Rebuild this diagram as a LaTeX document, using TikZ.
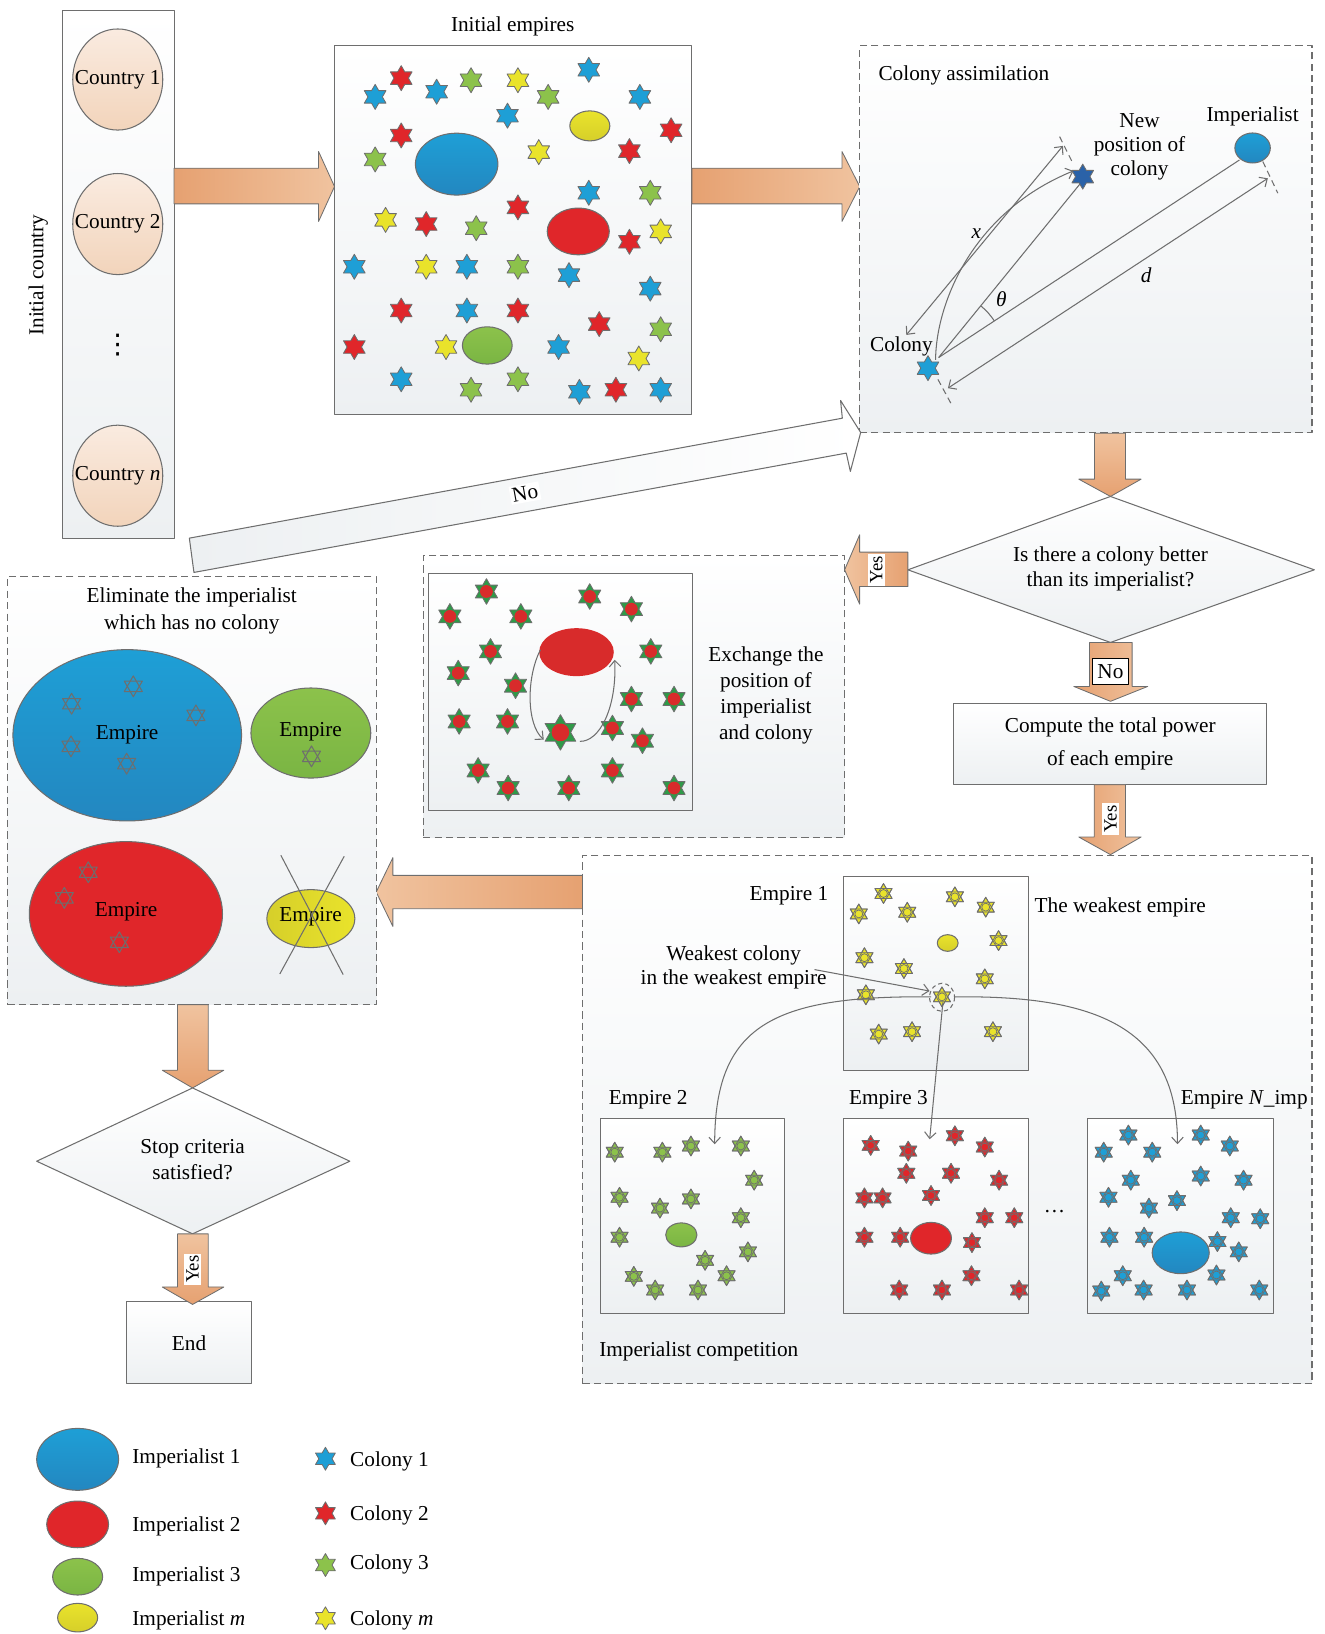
\documentclass[tikz,border=0pt]{standalone}
\usepackage{fontspec}
\setmainfont{Liberation Serif}
\newfontfamily\djv{DejaVu Sans}
\usetikzlibrary{arrows.meta}
\definecolor{sblue}{HTML}{1E9FD6}
\definecolor{sblueD}{HTML}{2387C0}
\definecolor{sred}{HTML}{E0262A}
\definecolor{sgreen}{HTML}{8CC24B}
\definecolor{sgreenD}{HTML}{7AB543}
\definecolor{syellow}{HTML}{E9E32B}
\definecolor{syellowD}{HTML}{D6CF2A}
\definecolor{sdblue}{HTML}{2A62A8}
\definecolor{exgreen}{HTML}{2F9A48}
\definecolor{exred}{HTML}{D82B2B}
\definecolor{lgray}{HTML}{6E6E6E}
\definecolor{boxbot}{HTML}{EDF0F2}
\definecolor{peachT}{HTML}{FAEBE0}
\definecolor{peachB}{HTML}{F2D4BB}
\definecolor{arrD}{HTML}{E6A171}
\definecolor{arrL}{HTML}{F0C39F}
\newcommand\hstar[4]{\filldraw[fill=#1,draw=lgray,line width=0.4pt] (#2,#3) +(90:#4) -- +(120:{0.5774*#4}) -- +(150:#4) -- +(180:{0.5774*#4}) -- +(210:#4) -- +(240:{0.5774*#4}) -- +(270:#4) -- +(300:{0.5774*#4}) -- +(330:#4) -- +(0:{0.5774*#4}) -- +(30:#4) -- +(60:{0.5774*#4}) -- cycle;}
\newcommand\tristar[4]{\draw[lgray,line width=#4] (#1,#2) +(90:#3) -- +(210:#3) -- +(330:#3) -- cycle;
 \draw[lgray,line width=#4] (#1,#2) +(270:#3) -- +(30:#3) -- +(150:#3) -- cycle;}
\newcommand\cstar[4]{\hstar{#1}{#2}{#3}{#4}\tristar{#2}{#3}{#4}{0.35pt}\filldraw[fill=#1,draw=lgray,line width=0.35pt] (#2,#3) circle[radius={0.4*#4}];}
\newcommand\exstar[3]{\hstar{exgreen}{#1}{#2}{#3}\fill[exred] (#1,#2) circle[radius={0.5*#3}];}
\tikzset{
 every node/.style={font=\fontsize{10.2}{12}\selectfont, text=black},
 cline/.style={draw=lgray, line width=0.5pt},
 pane/.style={cline, top color=white, bottom color=boxbot, inner sep=0pt, outer sep=0pt},
 dpane/.style={pane, dash pattern=on 3.5pt off 2pt},
 blockR/.style={cline, line width=0.4pt, left color=arrD, right color=arrL},
 blockL/.style={cline, line width=0.4pt, left color=arrL, right color=arrD},
 blockD/.style={cline, line width=0.4pt, top color=arrL, bottom color=arrD},
 conn/.style={draw=lgray, line width=0.5pt},
 tipp/.style={-{Straight Barb[length=3pt,width=5.5pt]}},
 dtip/.style={{Straight Barb[length=3pt,width=5.5pt]}-{Straight Barb[length=3pt,width=5.5pt]}},
 tick/.style={conn, dash pattern=on 3pt off 2pt},
 ylab/.style={fill=white, inner sep=1pt, rotate=90, font=\fontsize{9}{10}\selectfont},
}
\begin{document}
\begin{tikzpicture}[x=0.5pt,y=-0.5pt,line join=round]
\useasboundingbox (0,0) rectangle (1271,1568);

% ---------- initial country column
\node[pane, minimum width=53.5pt, minimum height=253.5pt] (colbox) at (113.5,263.5) {};
\draw[cline, top color=peachT, bottom color=peachB] (113,76.3) ellipse[x radius=43.2, y radius=48.5];
\draw[cline, top color=peachT, bottom color=peachB] (113,215) ellipse[x radius=43.2, y radius=48.5];
\draw[cline, top color=peachT, bottom color=peachB] (113,456.5) ellipse[x radius=43.2, y radius=48.5];
\node (c1) at (113,76.3) {Country 1};
\node (c2) at (113,215) {Country 2};
\node (cn) at (113,456.5) {Country \textit{n}};
\node (dots) at (113,331) {{\djv\fontsize{13}{14}\selectfont ⋮}};
\node[rotate=90] (ic) at (36.8,264) {Initial country};

% ---------- arrow A
\draw[blockR] (167,161.4) -- (305.7,161.4) -- (305.7,145.4) -- (321,179) -- (305.7,212.5) -- (305.7,195.6) -- (167,195.6) -- cycle;

% ---------- initial empires
\node[pane, minimum width=171.5pt, minimum height=177pt] (initbox) at (492.5,221) {};
\node (ietitle) at (492,25) {Initial empires};
\draw[cline, top color=sblue, bottom color=sblueD] (438.2,157.5) ellipse[x radius=39.6, y radius=29.7];
\draw[cline, top color=syellow, bottom color=syellowD] (566,120.8) ellipse[x radius=19.2, y radius=14.4];
\draw[cline, fill=sred] (554.9,222.1) ellipse[x radius=29.8, y radius=22.4];
\draw[cline, top color=sgreen, bottom color=sgreenD] (467.6,331.5) ellipse[x radius=23.9, y radius=17.9];
\foreach \x/\y in {385/75,385/130,604/145,644/125,497/199,409/215,604/232,385/298,497/298,575/311,340/333,591/374}{\hstar{sred}{\x}{\y}{12}}
\foreach \x/\y in {360/93,419/88,565/67,614/93,487/111,565/185,340/256,448/256,546/264,624/277,448/298,536/333,385/364,556/376,634/374}{\hstar{sblue}{\x}{\y}{12}}
\foreach \x/\y in {452/77,526/93,360/153,624/185,457/219,497/256,634/316,452/374,497/364}{\hstar{sgreen}{\x}{\y}{12}}
\foreach \x/\y in {497/77,517/146,370/211,634/222,409/256,428/333,613/344}{\hstar{syellow}{\x}{\y}{12}}

% ---------- arrow B
\draw[blockR] (664,161.4) -- (808,161.4) -- (808,145.4) -- (825,179) -- (808,212.5) -- (808,195.6) -- (664,195.6) -- cycle;

% ---------- colony assimilation
\node[dpane, minimum width=217pt, minimum height=185.5pt] (assim) at (1042,229.5) {};
\node[anchor=west] (astitle) at (836,72) {Colony assimilation};
\coordinate (colony) at (890.5,353.3);
\coordinate (newpos) at (1039,169.5);
\coordinate (imper) at (1202,142);
\draw[conn] (900.7,343.1) -- (1036.6,176.2);
\draw[conn] (900.7,343.1) -- (1189.4,153.5);
\draw[conn,dtip] (869.7,321.4) -- (1020,140);
\draw[conn,dtip] (909.6,372.5) -- (1216.6,171.1);
\draw[conn,tipp] (897.8,345.3) .. controls (898,295) and (930,205) .. (1030,164);
\draw[tick] (1016.8,131.1) -- (1029.5,156.7);
\draw[tick] (900,364) -- (913,388);
\draw[tick] (1211.8,155) -- (1226.2,185.4);
\draw[conn] (900.7,343.1) ++(-50.8:64) arc[start angle=-50.8, end angle=-33.3, radius=64];
\hstar{sblue}{890.5}{353.3}{12}
\hstar{sdblue}{1039}{169.5}{12}
\draw[cline, top color=sblue, bottom color=sblueD] (imper) ellipse[x radius=17, y radius=14.4];
\node (implab) at (1202,112) {Imperialist};
\node[align=center, font=\fontsize{10.2}{11.5}\selectfont] (newlab) at (1093.5,140.5) {New\\position of\\colony};
\node (collab) at (865,332.5) {Colony};
\node (xlab) at (937,224) {\textit{x}};
\node (thlab) at (961,287) {\textit{θ}};
\node (dlab) at (1100,264) {\textit{d}};

% ---------- arrow C
\draw[blockD] (1050.3,415.7) -- (1080,415.7) -- (1080,459.8) -- (1095,459.8) -- (1065.6,476.4) -- (1035.2,459.8) -- (1050.3,459.8) -- cycle;

% ---------- decision 1
\coordinate (d1t) at (1065.6,476.4);
\coordinate (d1r) at (1261.2,546.8);
\coordinate (d1b) at (1065.6,616.5);
\coordinate (d1l) at (871.2,546.8);
\draw[cline, top color=white, bottom color=boxbot] (d1t) -- (d1r) -- (d1b) -- (d1l) -- cycle;
\node[align=center] (d1txt) at (1065.6,546) {Is there a colony better\\than its imperialist?};

% yes arrow left
\draw[blockL] (871.2,529.8) -- (824.9,529.8) -- (824.9,513.2) -- (810.5,546.8) -- (824.9,579.7) -- (824.9,562.8) -- (871.2,562.8) -- cycle;
\node[ylab] (yes1) at (840.9,546.8) {Yes};
% no arrow down
\draw[blockR] (1045.5,616.5) -- (1086.4,616.5) -- (1086.4,658.7) -- (1101.4,658.7) -- (1065.6,673) -- (1030.4,658.7) -- (1045.5,658.7) -- cycle;
\node[draw=black, fill=white, inner xsep=2.2pt, inner ysep=3pt, line width=0.5pt] (no1) at (1065.6,644.3) {No};

% ---------- compute box
\node[pane, minimum width=150.1pt, minimum height=39pt, align=center, font=\fontsize{10.2}{16}\selectfont] (comp) at (1065.4,714) {Compute the total power\\of each empire};

% ---------- exchange
\node[dpane, minimum width=202.25pt, minimum height=135.35pt] (exbox) at (608.25,668.65) {};
\node[pane, minimum width=126.75pt, minimum height=113.8pt] (exin) at (537.75,663.8) {};
\node[align=center, font=\fontsize{10.2}{12.5}\selectfont] (extxt) at (735,667) {Exchange the\\position of\\imperialist\\and colony};
\foreach \x/\y in {466.8/567.6,431.7/591.5,499.8/591.5,565.9/572.4,605.9/584.5,470.7/625.1,624.5/625.1,439.7/645.9,494.7/658,605.9/670.8,646.8/670.8,440.6/692.3,487/692.3,587.7/698.6,616.5/710.8,458.8/739.3,487.6/756.2,545.8/756.2,587.7/739.3,646.8/756.2}{\exstar{\x}{\y}{12.3}}
\exstar{537.8}{702.8}{17}
\fill[exred] (553.2,625.8) ellipse[x radius=35.8, y radius=23];
\draw[conn,tipp] (518.6,623.5) .. controls (505,650) and (505,695) .. (521.8,709.8);
\draw[conn,tipp] (556.4,711.4) .. controls (575,712) and (592,680) .. (589.9,633.1);

% ---------- competition
\node[dpane, minimum width=350pt, minimum height=253.65pt] (compbox) at (909,1074.35) {};
\draw[blockR] (1050,753) -- (1080,753) -- (1080,803.2) -- (1095,803.2) -- (1065.6,820.1) -- (1035.2,803.2) -- (1050,803.2) -- cycle;
\node[ylab] (yes2) at (1065.6,786) {Yes};
\node[pane, minimum width=89pt, minimum height=93pt] (e1) at (898,934) {};
\node[pane, minimum width=88.5pt, minimum height=93.5pt] (e2) at (664.5,1166.5) {};
\node[pane, minimum width=89pt, minimum height=93.5pt] (e3) at (898,1166.5) {};
\node[pane, minimum width=89pt, minimum height=93.5pt] (eN) at (1133,1166.5) {};
\node (e1lab) at (757,860) {Empire 1};
\node (weaklab) at (1075,871) {The weakest empire};
\node[align=center, font=\fontsize{10.2}{11.6}\selectfont] (wclab) at (704,928.5) {Weakest colony\\in the weakest empire};
\node (e2lab) at (622,1055.5) {Empire 2};
\node (e3lab) at (852.5,1055) {Empire 3};
\node (eNlab) at (1194,1055.5) {Empire \textit{N}\_imp};
\node (hdots) at (1012,1163) {\dots};
\node[anchor=west] (iclab) at (568,1297) {Imperialist competition};
\draw[cline, top color=syellow, bottom color=syellowD] (909.4,904.9) ellipse[x radius=10, y radius=8];
\foreach \x/\y in {847.8/857.4,916.3/860.6,824.1/877,870.6/875.4,945.9/870.5,958.2/902.6,829.5/919,867.4/929.4,945/939.3,830.9/954.6,843.2/992.3,875.2/990,952.8/990,903.9/956.6}{\cstar{syellow}{\x}{\y}{9.5}}
\draw[cline, top color=sgreen, bottom color=sgreenD] (653.8,1185) ellipse[x radius=15, y radius=11.5];
\foreach \x/\y in {589.9/1105.6,635.6/1105.6,663/1099.7,710.9/1099.7,723.7/1132.5,594.5/1148.9,633.3/1159.3,663/1150.5,710.9/1168.5,594.5/1187.2,717.7/1201.3,676.6/1209.4,608.2/1224.8,697.2/1224.2,628.7/1237.9,669.8/1237.9}{\cstar{sgreen}{\x}{\y}{9.5}}
\draw[cline, fill=sred] (893.4,1188.2) ellipse[x radius=19.6, y radius=15.2];
\foreach \x/\y in {835.5/1099.1,871.5/1104.6,916.3/1089.9,945/1100.7,869.7/1125.9,912.6/1125.9,958.7/1132.5,829.5/1149.5,846.9/1149.5,893.4/1147.2,945/1168.5,973.3/1168.5,829.5/1187.2,863.8/1187.2,932.7/1192.4,932.2/1224.2,862.9/1237.9,903.9/1237.9,977.9/1237.9}{\cstar{sred}{\x}{\y}{9.5}}
\draw[cline, top color=sblue, bottom color=sblueD] (1133,1202.2) ellipse[x radius=27.4, y radius=20];
\foreach \x/\y in {1059.1/1105.6,1082.8/1089.2,1105.7/1105.6,1152.2/1089.2,1180.1/1099.7,1085.1/1132.5,1152.2/1128.5,1193.3/1132.5,1063.7/1148.9,1102.5/1159.3,1129.4/1152.1,1181/1168.5,1209.3/1169.5,1064.6/1187.2,1097.9/1187.2,1168.2/1191.4,1188.7/1201.3,1077.4/1224.2,1167.3/1223.5,1056.8/1238.9,1097.4/1237.9,1139/1237.9,1208.4/1237.9}{\cstar{sblue}{\x}{\y}{9.5}}
\coordinate (weak) at (904,957);
\draw[conn, dash pattern=on 2pt off 1.5pt] (weak) ellipse[x radius=12, y radius=13.5];
\draw[conn,tipp] (781.6,930.4) -- (892,951);
\draw[conn,tipp] (893.4,956.6) .. controls (740,955) and (686,985) .. (685.8,1098);
\draw[conn,tipp] (904.8,962) -- (892.1,1093.2);
\draw[conn,tipp] (916.3,956.6) .. controls (1050,955) and (1130,985) .. (1129.9,1098);

% ---------- arrow to eliminate
\draw[blockL] (559,840) -- (377,840) -- (377,823) -- (361,856) -- (377,889) -- (377,872) -- (559,872) -- cycle;

% ---------- eliminate
\node[dpane, minimum width=177.15pt, minimum height=205.4pt] (elbox) at (184.15,758.6) {};
\node[align=center, font=\fontsize{10.2}{13}\selectfont] (eltitle) at (184,586) {Eliminate the imperialist\\which has no colony};
\draw[cline, top color=sblue, bottom color=sblueD] (122.1,705.6) ellipse[x radius=109.7, y radius=82.2];
\draw[cline, top color=sgreen, bottom color=sgreenD] (298.3,703.4) ellipse[x radius=57.5, y radius=43.2];
\draw[cline, fill=sred] (120.8,877) ellipse[x radius=92.7, y radius=69.4];
\draw[cline, left color=syellowD, right color=syellow] (298.3,881.5) ellipse[x radius=42.2, y radius=27.8];
\foreach \x/\y in {68.7/675.3,127.9/658.6,188/686.5,68.1/716.2,121.5/732.8,298.9/725.8,84.7/837,61.7/861.6,114.5/904.2}{\tristar{\x}{\y}{10}{0.5pt}}
\node (emp1) at (122,705) {Empire};
\node (emp2) at (298,702) {Empire};
\node (emp3) at (121,875) {Empire};
\node (emp4) at (298,880) {Empire};
\draw[conn] (269.5,820.7) -- (329.3,935.2);
\draw[conn] (330.3,821.7) -- (268.5,934.6);

% ---------- stop decision
\draw[blockD] (170.4,964) -- (199.8,964) -- (199.8,1027) -- (214.8,1027) -- (184.8,1044) -- (155.7,1027) -- (170.4,1027) -- cycle;
\coordinate (d2t) at (184.8,1044);
\coordinate (d2r) at (335.7,1114.3);
\coordinate (d2b) at (184.8,1184);
\coordinate (d2l) at (35.2,1114.3);
\draw[cline, top color=white, bottom color=boxbot] (d2t) -- (d2r) -- (d2b) -- (d2l) -- cycle;
\node[align=center, font=\fontsize{10.2}{12.8}\selectfont] (d2txt) at (184.8,1112.7) {Stop criteria\\satisfied?};
\node[pane, minimum width=59.95pt, minimum height=39.3pt] (endb) at (181.45,1288.5) {End};
\draw[blockD] (170.4,1184) -- (199.8,1184) -- (199.8,1235) -- (214.8,1235) -- (184.8,1251.7) -- (155.7,1235) -- (170.4,1235) -- cycle;
\node[ylab] (yes3) at (184.8,1218) {Yes};

% ---------- big No arrow
\draw[cline, left color=boxbot, right color=white] (186.1,549.3) -- (812.1,434.8) -- (816,452.4) -- (825.9,415) -- (806.6,384.3) -- (808.3,401.3) -- (181.7,516.4) -- cycle;
\node[rotate=10.4, fill=white, inner sep=1pt] (nobig) at (503.8,473.2) {No};

% ---------- legend
\draw[cline, top color=sblue, bottom color=sblueD] (74.5,1400.4) ellipse[x radius=39.3, y radius=29.7];
\draw[cline, fill=sred] (74.5,1462.8) ellipse[x radius=29.7, y radius=22.4];
\draw[cline, top color=sgreen, bottom color=sgreenD] (74.5,1513) ellipse[x radius=24, y radius=17.6];
\draw[cline, top color=syellow, bottom color=syellowD] (74.5,1552.3) ellipse[x radius=19.2, y radius=13.7];
\node[anchor=west] (li1) at (120,1399) {Imperialist 1};
\node[anchor=west] (li2) at (120,1464.5) {Imperialist 2};
\node[anchor=west] (li3) at (120,1512.5) {Imperialist 3};
\node[anchor=west] (lim) at (120,1554.5) {Imperialist \textit{m}};
\hstar{sblue}{312.3}{1399.8}{11}
\hstar{sred}{312.3}{1452.2}{11}
\hstar{sgreen}{312.3}{1501.8}{11}
\hstar{syellow}{312.3}{1552.9}{11}
\node[anchor=west] (lc1) at (329,1402) {Colony 1};
\node[anchor=west] (lc2) at (329,1454) {Colony 2};
\node[anchor=west] (lc3) at (329,1501.5) {Colony 3};
\node[anchor=west] (lcm) at (329,1554.5) {Colony \textit{m}};
\end{tikzpicture}
\end{document}
